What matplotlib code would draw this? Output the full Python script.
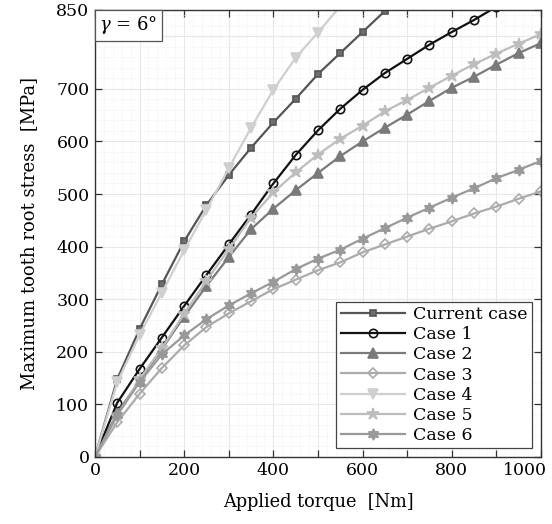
import numpy as np
import matplotlib
matplotlib.use('Agg')
import matplotlib.pyplot as plt
import matplotlib.transforms as mtransforms
from matplotlib.offsetbox import AnchoredText
from matplotlib.ticker import MultipleLocator

plt.rcParams['font.family'] = 'DejaVu Serif'
plt.rcParams['mathtext.fontset'] = 'dejavuserif'

# applied torque [Nm], every 50 Nm
torque = np.arange(0, 1050, 50)

# maximum tooth root stress [MPa]
current_case = [0, 148, 243, 328, 410, 479, 536, 588, 636, 681, 728, 768, 808, 848, 885]
case_1 = [0, 103, 167, 227, 287, 346, 404, 461, 520, 574, 621, 662, 698, 730, 757,
          784, 808, 831, 856, 880, 903]
case_2 = [0, 84, 145, 205, 267, 325, 380, 433, 472, 507, 540, 572, 600, 626, 651,
          677, 702, 723, 746, 768, 787]
case_3 = [0, 66, 120, 169, 212, 247, 273, 296, 319, 337, 355, 370, 389, 404, 419,
          434, 448, 463, 476, 491, 505]
case_4 = [0, 142, 232, 312, 393, 470, 549, 626, 698, 759, 807, 857, 905]
case_5 = [0, 78, 148, 207, 272, 335, 395, 455, 503, 541, 575, 605, 630, 657, 679,
          702, 725, 747, 767, 786, 804]
case_6 = [0, 80, 142, 195, 231, 262, 288, 311, 333, 357, 377, 394, 415, 435, 455,
          474, 493, 511, 530, 546, 563]

# label, values, line colour, marker, marker face, marker size
series = [
    ('Current case', current_case, '#555555', 's', '#6e6e6e', 5),
    ('Case 1', case_1, '#111111', 'o', 'none', 6),
    ('Case 2', case_2, '#7a7a7a', '^', '#7a7a7a', 6.5),
    ('Case 3', case_3, '#ababab', 'D', 'none', 4.8),
    ('Case 4', case_4, '#cfcfcf', 'v', '#cfcfcf', 6.5),
    ('Case 5', case_5, '#bdbdbd', '*', '#bdbdbd', 9),
    ('Case 6', case_6, '#999999', (6, 1, 0), '#999999', 8),
]

fig = plt.figure(figsize=(5.52, 5.24), dpi=100)
ax = fig.add_axes([0.172, 0.128, 0.808, 0.853])

for label, vals, col, mk, face, ms in series:
    ax.plot(torque[:len(vals)], vals, color=col, lw=1.6, marker=mk, ms=ms,
            mfc=face, mec=col, mew=1.2, label=label)

ax.set_xlim(0, 1000)
ax.set_ylim(0, 850)

yt = [0, 100, 200, 300, 400, 500, 600, 700, 800, 850]
ax.set_yticks(yt)
ax.set_yticklabels([str(v) if v != 800 else '' for v in yt])
xt = np.arange(0, 1100, 100)
ax.set_xticks(xt)
ax.set_xticklabels([str(v) if v % 200 == 0 else '' for v in xt])
ax.xaxis.set_minor_locator(MultipleLocator(20))
ax.yaxis.set_minor_locator(MultipleLocator(20))

ax.tick_params(which='major', direction='in', length=5, width=0.9, color='#333333',
               top=True, right=True, labelsize=12.5, pad=4)
ax.tick_params(which='minor', length=0, top=True, right=True)
ax.grid(which='major', color='#e8e8e8', lw=0.8)
ax.grid(which='minor', color='#ebebeb', lw=0.6, ls=':')
ax.set_axisbelow(True)
for sp in ax.spines.values():
    sp.set_color('#333333')
    sp.set_linewidth(1.0)

# keep the last x label inside the figure
last = ax.get_xticklabels()[-1]
last.set_ha('right')
last.set_transform(last.get_transform() +
                   mtransforms.ScaledTranslation(6 / 100, 0, fig.dpi_scale_trans))

ax.set_xlabel('Applied torque  [Nm]', fontsize=12.8, labelpad=10)
ax.set_ylabel('Maximum tooth root stress  [MPa]', fontsize=13, labelpad=13)

leg = ax.legend(loc='lower right', fontsize=12.5, handlelength=3.7, labelspacing=0.18,
                borderaxespad=0.5, borderpad=0.25, handletextpad=0.5, fancybox=False,
                framealpha=1, edgecolor='#444444')
leg.get_frame().set_linewidth(0.9)

at = AnchoredText(r'$\gamma$ = 6°', loc='upper left', borderpad=0, pad=0.25,
                  prop=dict(size=13), frameon=True)
at.patch.set_boxstyle('square,pad=0')
at.patch.set_edgecolor('#555555')
at.patch.set_linewidth(0.9)
ax.add_artist(at)

fig.savefig('out.png', dpi=100)
